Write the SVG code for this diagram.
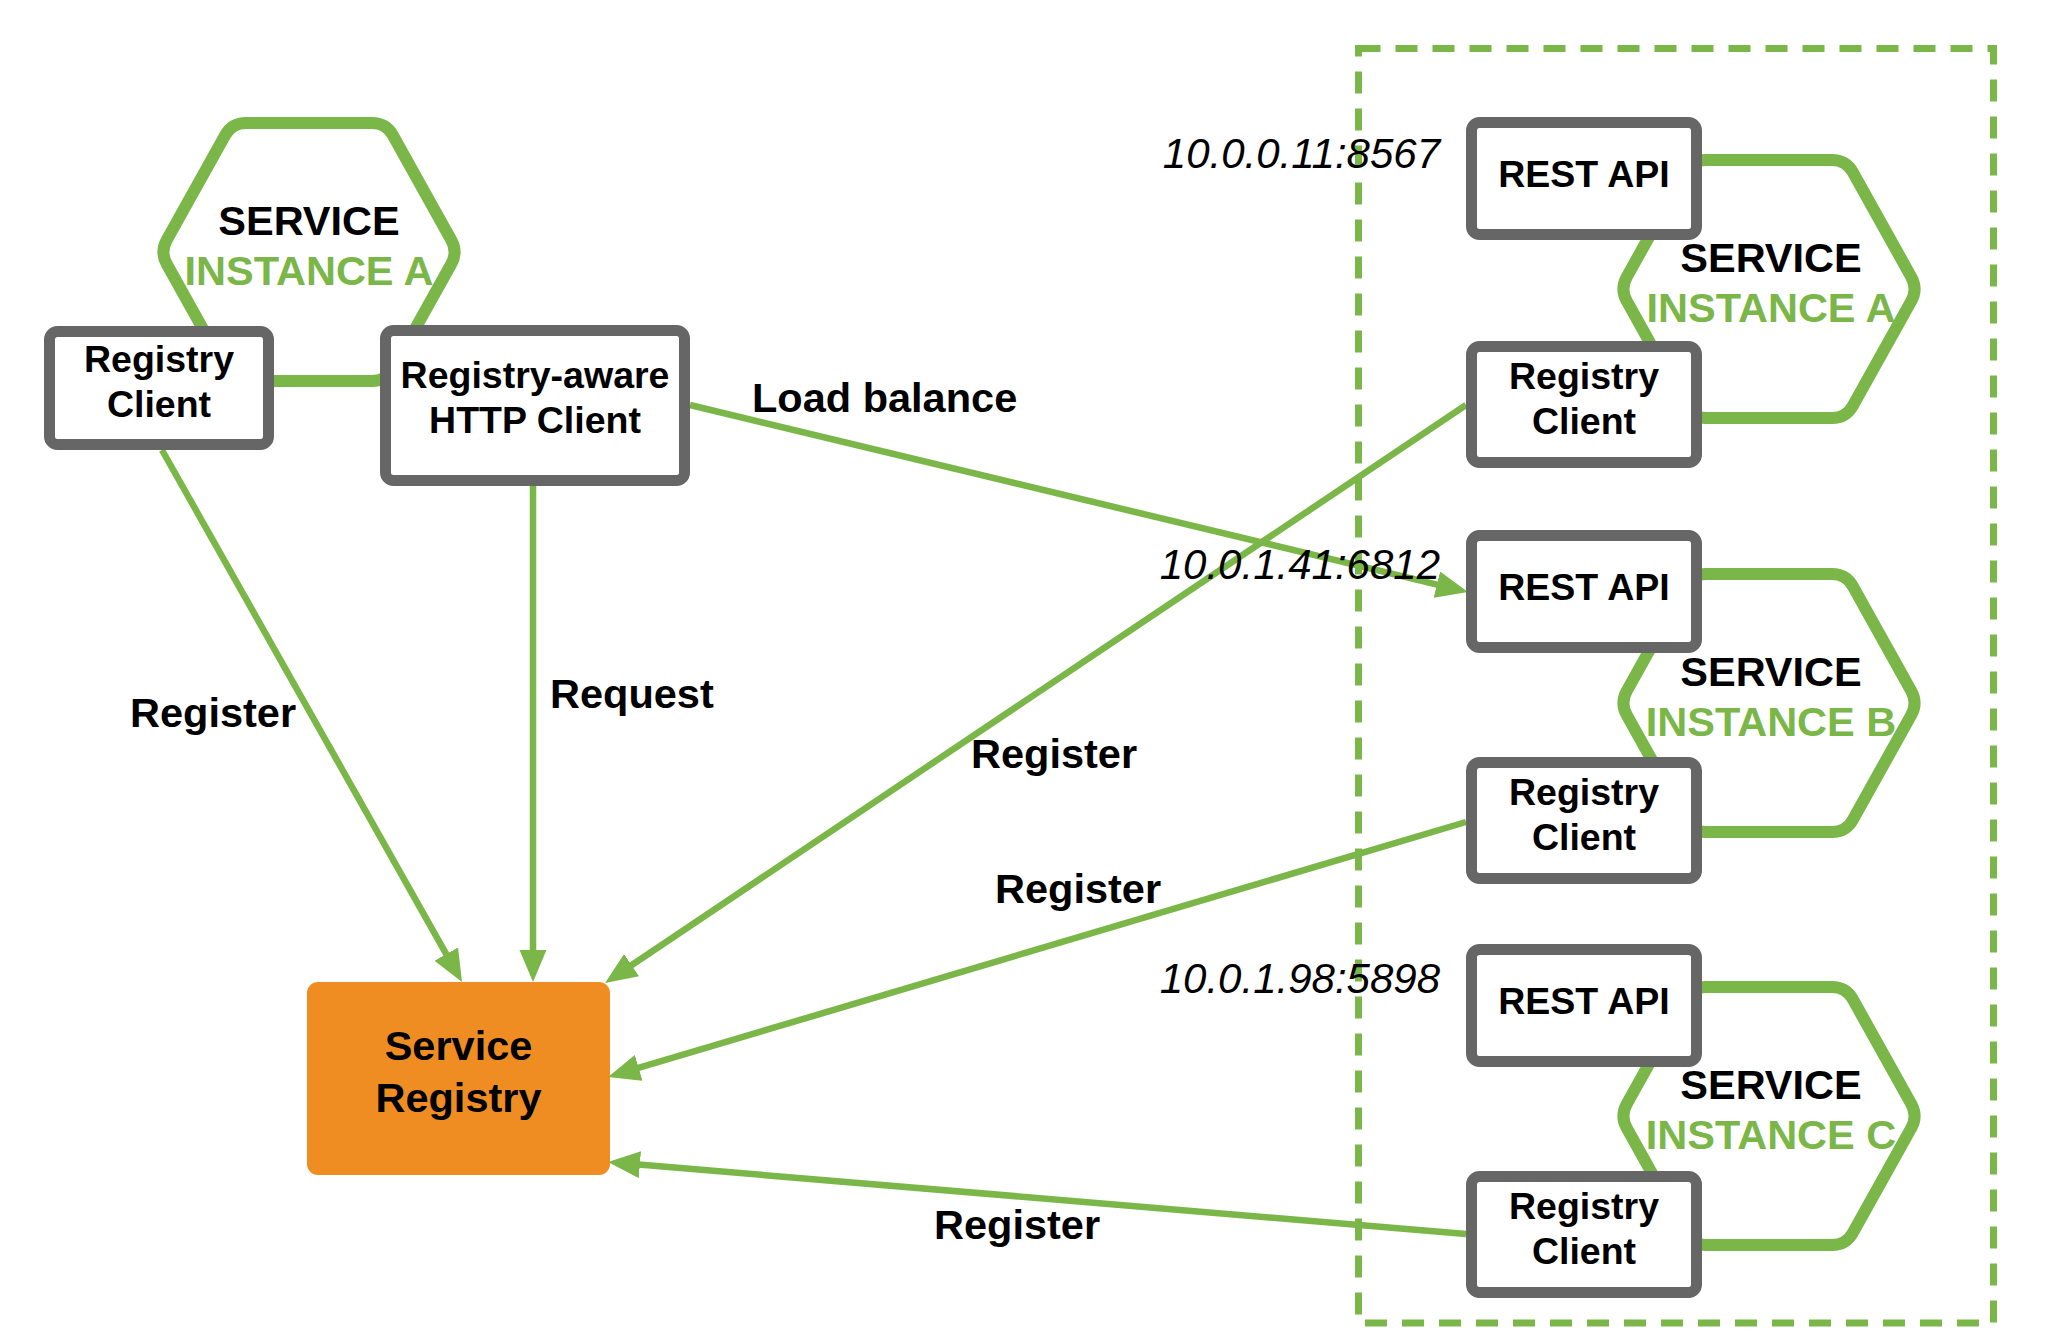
<svg xmlns="http://www.w3.org/2000/svg" width="2052" height="1344" viewBox="0 0 2052 1344">
  <style>
    .hex { fill: none; stroke: #7AB648; stroke-width: 12; }
    .box { fill: #FFFFFF; stroke: #666666; stroke-width: 11; }
    .conn { fill: none; stroke: #7AB648; stroke-width: 6.5; marker-end: url(#arrow); }
    .t { font-family: "Liberation Sans", Arial, sans-serif; font-weight: bold; fill: #000000; text-anchor: middle; }
    .bt { font-size: 37.5px; }
    .ht { font-size: 41.5px; }
    .green { fill: #7AB648; }
    .lbl { font-family: "Liberation Sans", Arial, sans-serif; font-weight: bold; font-size: 41.5px; fill: #000000; }
    .ip { font-family: "Liberation Sans", Arial, sans-serif; font-style: italic; font-size: 42px; fill: #000000; text-anchor: end; }
  </style>
  <defs>
    <path id="hexShape" d="M-63,-129 L63,-129 Q77,-129 83.8,-116.8 L142.2,-12.2 Q149,0 142.2,12.2 L83.8,116.8 Q77,129 63,129 L-63,129 Q-77,129 -83.8,116.8 L-142.2,12.2 Q-149,0 -142.2,-12.2 L-83.8,-116.8 Q-77,-129 -63,-129 Z"/>
    <marker id="arrow" markerUnits="userSpaceOnUse" markerWidth="34" markerHeight="28" refX="10" refY="13.5" orient="auto">
      <path d="M0,0 L32,13.5 L0,27 Z" fill="#7AB648"/>
    </marker>
  </defs>
  <rect width="2052" height="1344" fill="#FFFFFF"/>

  <g id="cluster">
    <rect x="1358.5" y="48.5" width="635" height="1274.5" fill="none" stroke="#7AB648" stroke-width="7" stroke-dasharray="22 15"/>
  </g>

  <g id="hex-left">
    <use href="#hexShape" class="hex" transform="translate(309,252)"/>
    <text class="t ht" x="309" y="235">SERVICE</text>
    <text class="t ht green" x="309" y="285">INSTANCE A</text>
  </g>
  <g id="hex-a">
    <use href="#hexShape" class="hex" transform="translate(1769,289)"/>
    <text class="t ht" x="1771" y="272">SERVICE</text>
    <text class="t ht green" x="1771" y="322">INSTANCE A</text>
  </g>
  <g id="hex-b">
    <use href="#hexShape" class="hex" transform="translate(1769,703)"/>
    <text class="t ht" x="1771" y="686">SERVICE</text>
    <text class="t ht green" x="1771" y="736">INSTANCE B</text>
  </g>
  <g id="hex-c">
    <use href="#hexShape" class="hex" transform="translate(1769,1116)"/>
    <text class="t ht" x="1771" y="1099">SERVICE</text>
    <text class="t ht green" x="1771" y="1149">INSTANCE C</text>
  </g>

  <g id="connectors">
    <line class="conn" x1="162" y1="450" x2="451.2" y2="962.8"/>
    <line class="conn" x1="533" y1="486" x2="533" y2="960"/>
    <line class="conn" x1="1466" y1="405" x2="623.3" y2="970.7"/>
    <line class="conn" x1="1466" y1="822" x2="629.1" y2="1070.7"/>
    <line class="conn" x1="1466" y1="1234" x2="629.9" y2="1163.8"/>
    <line class="conn" x1="690" y1="405" x2="1446.6" y2="586.9"/>
  </g>

  <g id="registry-client-left">
    <rect class="box" x="49.5" y="331.5" width="219" height="113" rx="8"/>
    <text class="t bt" x="159" y="372">Registry</text>
    <text class="t bt" x="159" y="417">Client</text>
  </g>
  <g id="http-client">
    <rect class="box" x="385.5" y="330.5" width="299" height="150" rx="8"/>
    <text class="t bt" x="535" y="388">Registry-aware</text>
    <text class="t bt" x="535" y="433">HTTP Client</text>
  </g>
  <g id="service-registry">
    <rect x="307" y="982" width="303" height="193" rx="11" fill="#EF8D22"/>
    <text class="t ht" x="458.5" y="1060">Service</text>
    <text class="t ht" x="458.5" y="1112">Registry</text>
  </g>

  <g id="rest-api-a">
    <rect class="box" x="1471.5" y="122.5" width="225" height="112" rx="8"/>
    <text class="t bt" x="1584" y="187">REST API</text>
  </g>
  <g id="registry-client-a">
    <rect class="box" x="1471.5" y="346.5" width="225" height="116" rx="8"/>
    <text class="t bt" x="1584" y="389">Registry</text>
    <text class="t bt" x="1584" y="434">Client</text>
  </g>
  <g id="rest-api-b">
    <rect class="box" x="1471.5" y="535.5" width="225" height="112" rx="8"/>
    <text class="t bt" x="1584" y="600">REST API</text>
  </g>
  <g id="registry-client-b">
    <rect class="box" x="1471.5" y="762.5" width="225" height="116" rx="8"/>
    <text class="t bt" x="1584" y="805">Registry</text>
    <text class="t bt" x="1584" y="850">Client</text>
  </g>
  <g id="rest-api-c">
    <rect class="box" x="1471.5" y="949.5" width="225" height="112" rx="8"/>
    <text class="t bt" x="1584" y="1014">REST API</text>
  </g>
  <g id="registry-client-c">
    <rect class="box" x="1471.5" y="1176.5" width="225" height="116" rx="8"/>
    <text class="t bt" x="1584" y="1219">Registry</text>
    <text class="t bt" x="1584" y="1264">Client</text>
  </g>

  <g id="labels">
    <text class="lbl" x="752" y="412">Load balance</text>
    <text class="lbl" x="130" y="727">Register</text>
    <text class="lbl" x="550" y="708">Request</text>
    <text class="lbl" x="971" y="768">Register</text>
    <text class="lbl" x="995" y="903">Register</text>
    <text class="lbl" x="934" y="1239">Register</text>
    <text class="ip" x="1440" y="168">10.0.0.11:8567</text>
    <text class="ip" x="1440" y="579">10.0.1.41:6812</text>
    <text class="ip" x="1440" y="993">10.0.1.98:5898</text>
  </g>
</svg>
